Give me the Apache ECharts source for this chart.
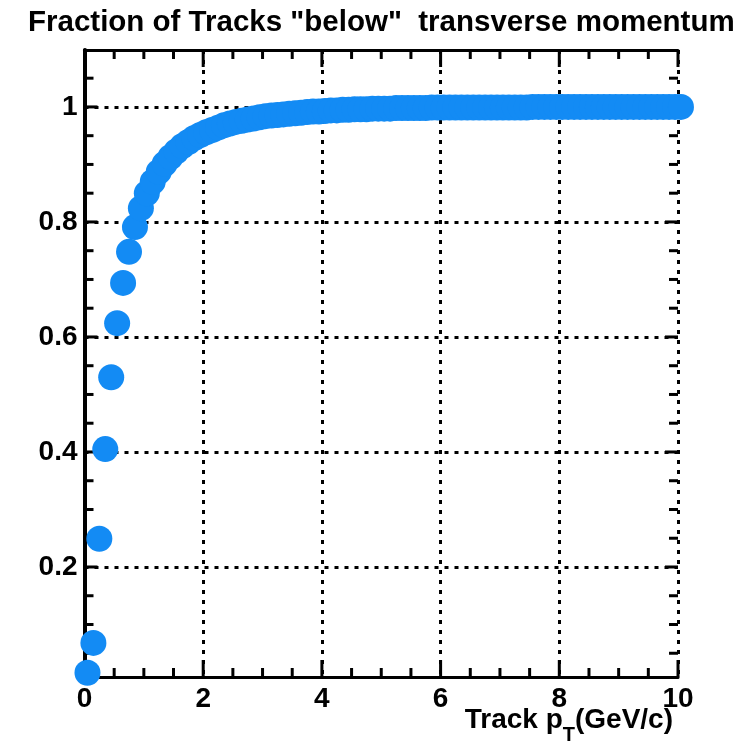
<!DOCTYPE html>
<html>
<head>
<meta charset="utf-8">
<script src="https://cdn.jsdelivr.net/npm/echarts@6/dist/echarts.min.js"></script>
<style>
  html, body { margin: 0; padding: 0; background: #ffffff; }
  #chart { width: 752px; height: 743px; }
</style>
</head>
<body>
<div id="chart"></div>
<script>
// Track pT bin centres (GeV/c)
const ptCenters = [
  0.05, 0.15, 0.25, 0.35, 0.45, 0.55, 0.65, 0.75, 0.85, 0.95,
  1.05, 1.15, 1.25, 1.35, 1.45, 1.55, 1.65, 1.75, 1.85, 1.95,
  2.05, 2.15, 2.25, 2.35, 2.45, 2.55, 2.65, 2.75, 2.85, 2.95,
  3.05, 3.15, 3.25, 3.35, 3.45, 3.55, 3.65, 3.75, 3.85, 3.95,
  4.05, 4.15, 4.25, 4.35, 4.45, 4.55, 4.65, 4.75, 4.85, 4.95,
  5.05, 5.15, 5.25, 5.35, 5.45, 5.55, 5.65, 5.75, 5.85, 5.95,
  6.05, 6.15, 6.25, 6.35, 6.45, 6.55, 6.65, 6.75, 6.85, 6.95,
  7.05, 7.15, 7.25, 7.35, 7.45, 7.55, 7.65, 7.75, 7.85, 7.95,
  8.05, 8.15, 8.25, 8.35, 8.45, 8.55, 8.65, 8.75, 8.85, 8.95,
  9.05, 9.15, 9.25, 9.35, 9.45, 9.55, 9.65, 9.75, 9.85, 9.95,
  10.05
];

// Cumulative fraction of tracks with pT below each bin
const fractionBelow = [
  0.016, 0.068, 0.249, 0.405, 0.530, 0.624, 0.694, 0.748, 0.791, 0.824,
  0.850, 0.870, 0.887, 0.901, 0.913, 0.923, 0.932, 0.939, 0.946, 0.951,
  0.956, 0.960, 0.964, 0.968, 0.971, 0.974, 0.976, 0.978, 0.980, 0.982,
  0.984, 0.985, 0.986, 0.987, 0.988, 0.989, 0.990, 0.991, 0.992, 0.992,
  0.993, 0.994, 0.994, 0.995, 0.995, 0.996, 0.996, 0.996, 0.997, 0.997,
  0.997, 0.997, 0.998, 0.998, 0.998, 0.998, 0.998, 0.998, 0.999, 0.999,
  0.999, 0.999, 0.999, 0.999, 0.999, 0.999, 0.999, 0.999, 0.999, 0.999,
  0.999, 0.999, 0.999, 0.999, 0.999, 1.000, 1.000, 1.000, 1.000, 1.000,
  1.000, 1.000, 1.000, 1.000, 1.000, 1.000, 1.000, 1.000, 1.000, 1.000,
  1.000, 1.000, 1.000, 1.000, 1.000, 1.000, 1.000, 1.000, 1.000, 1.000,
  1.000
];

// Axis ranges and tick positions
const xRange = [0, 10];
const xStep = 2;
const xMajorTicks = [0, 2, 4, 6, 8, 10];
const xMinorTicks = [0.5, 1, 1.5, 2.5, 3, 3.5, 4.5, 5, 5.5, 6.5, 7, 7.5, 8.5, 9, 9.5];
const yRange = [0.0087, 1.099];
const yMajorTicks = [0.2, 0.4, 0.6, 0.8, 1];
const yMinorTicks = [0.05, 0.1, 0.15, 0.25, 0.3, 0.35, 0.45, 0.5, 0.55,
                     0.65, 0.7, 0.75, 0.85, 0.9, 0.95, 1.05];

const FONT = 'Liberation Sans, Arial, Helvetica, sans-serif';
const BLACK = '#000000';
const gridDots = { color: BLACK, width: 3, type: [4, 6] };
const labelStyle = { color: BLACK, fontFamily: FONT, fontWeight: 'bold', fontSize: 28 };
const tickStyle = { stroke: BLACK, lineWidth: 3, lineCap: 'butt' };

const points = ptCenters.map((x, i) => [x, fractionBelow[i]]);

// Frame ticks on all four sides, pointing into the plot area
function xTickRenderer(ticks, len) {
  return function (params, api) {
    const v = ticks[params.dataIndex];
    const b = api.coord([v, yRange[0]]);
    const t = api.coord([v, yRange[1]]);
    return {
      type: 'group',
      children: [
        { type: 'line', shape: { x1: b[0], y1: b[1], x2: b[0], y2: b[1] - len }, style: tickStyle },
        { type: 'line', shape: { x1: t[0], y1: t[1], x2: t[0], y2: t[1] + len }, style: tickStyle }
      ]
    };
  };
}
function yTickRenderer(ticks, len) {
  return function (params, api) {
    const v = ticks[params.dataIndex];
    const l = api.coord([xRange[0], v]);
    const r = api.coord([xRange[1], v]);
    return {
      type: 'group',
      children: [
        { type: 'line', shape: { x1: l[0], y1: l[1], x2: l[0] + len, y2: l[1] }, style: tickStyle },
        { type: 'line', shape: { x1: r[0], y1: r[1], x2: r[0] - len, y2: r[1] }, style: tickStyle }
      ]
    };
  };
}
function tickSeries(ticks, renderer) {
  return {
    type: 'custom', xAxisIndex: 0, yAxisIndex: 0, silent: true, z: 1,
    data: ticks.map(v => [v]),
    renderItem: renderer
  };
}

const chart = echarts.init(document.getElementById('chart'), null, { renderer: 'canvas' });
chart.setOption({
  animation: false,
  backgroundColor: '#ffffff',
  title: [
    {
      text: 'Fraction of Tracks "below"  transverse momentum',
      left: 28, top: 3, padding: [5, 0, 5, 0],
      textStyle: { color: BLACK, fontFamily: FONT, fontWeight: 'bold', fontSize: 29.5 }
    },
    {
      text: '{a|Track p}{s|T}{a|(GeV/c)}',
      right: 79, top: 706, padding: 0,
      textStyle: {
        rich: {
          a: { color: BLACK, fontFamily: FONT, fontWeight: 'bold', fontSize: 28, lineHeight: 28, verticalAlign: 'top' },
          s: { color: BLACK, fontFamily: FONT, fontWeight: 'bold', fontSize: 20, lineHeight: 39, verticalAlign: 'bottom' }
        }
      }
    }
  ],
  grid: { left: 84.5, right: 74, top: 50, bottom: 66 },
  xAxis: [
    {
      type: 'value', position: 'bottom', min: xRange[0], max: xRange[1], interval: xStep,
      axisLine: { show: true, lineStyle: { color: BLACK, width: 3 } },
      axisTick: { show: false },
      axisLabel: Object.assign({ show: true, margin: 8 }, labelStyle),
      splitLine: { show: true, lineStyle: gridDots }
    },
    {
      type: 'value', position: 'top', min: xRange[0], max: xRange[1], interval: xStep,
      axisLine: { show: true, lineStyle: { color: BLACK, width: 3 } },
      axisTick: { show: false },
      axisLabel: { show: false },
      splitLine: { show: false }
    }
  ],
  yAxis: [
    {
      type: 'value', position: 'left', min: yRange[0], max: yRange[1],
      axisLine: { show: true, lineStyle: { color: BLACK, width: 3 } },
      axisTick: { show: false, customValues: yMajorTicks },
      axisLabel: Object.assign({
        show: true, margin: 7, customValues: yMajorTicks,
        formatter: v => String(Math.round(v * 10) / 10)
      }, labelStyle),
      splitLine: { show: true, lineStyle: gridDots }
    },
    {
      type: 'value', position: 'right', min: yRange[0], max: yRange[1],
      axisLine: { show: true, lineStyle: { color: BLACK, width: 4 } },
      axisTick: { show: false },
      axisLabel: { show: false },
      splitLine: { show: false }
    }
  ],
  series: [
    tickSeries(xMajorTicks, xTickRenderer(xMajorTicks, 17)),
    tickSeries(xMinorTicks, xTickRenderer(xMinorTicks, 9)),
    tickSeries(yMajorTicks, yTickRenderer(yMajorTicks, 13)),
    tickSeries(yMinorTicks, yTickRenderer(yMinorTicks, 9)),
    {
      type: 'scatter',
      xAxisIndex: 0, yAxisIndex: 0,
      data: points,
      symbol: 'circle',
      symbolSize: 26,
      clip: false,
      silent: true,
      z: 3,
      itemStyle: { color: '#138bf4', opacity: 1 }
    }
  ]
});
</script>
</body>
</html>
